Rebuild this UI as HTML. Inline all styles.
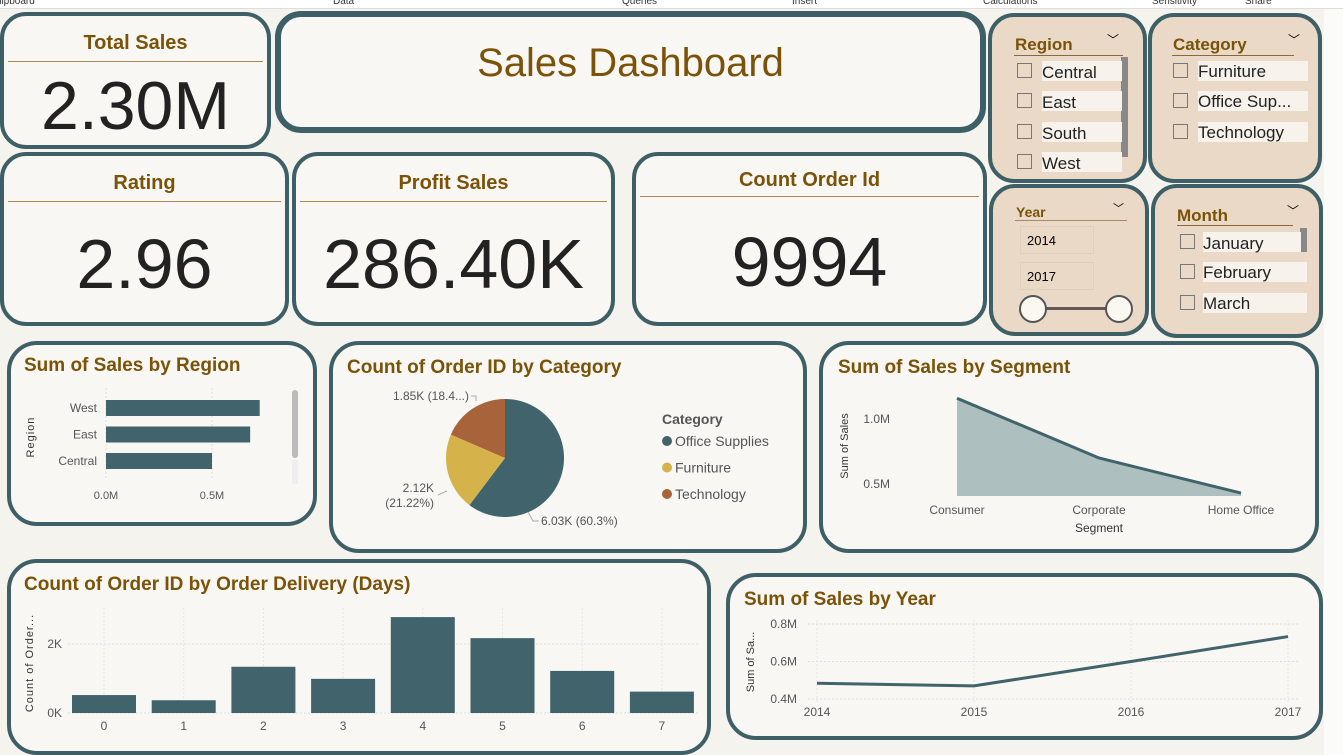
<!DOCTYPE html>
<html><head><meta charset="utf-8">
<style>
body{margin:0;width:1343px;height:755px;background:#f4f3ee;font-family:"Liberation Sans","DejaVu Sans",sans-serif;position:relative;overflow:hidden}
.card{position:absolute;box-sizing:border-box;border:4px solid #3f5f66;border-radius:26px;background:#f8f7f3}
.kt{position:absolute;left:0;right:0;text-align:center;color:#7a5208;font-weight:bold;font-size:20px}
.kl{position:absolute;left:4px;right:4px;height:1px;background:#a98a55}
.kv{position:absolute;left:0;right:0;text-align:center;color:#222;font-size:70px;line-height:80px}
.sl{position:absolute;box-sizing:border-box;border:4px solid #3f5f66;border-radius:26px;background:#e9d9c6}
.st{position:absolute;color:#7a5208;font-weight:bold;font-size:17px}
.item{position:absolute;font-size:17px;color:#222}
.cb{position:absolute;width:15px;height:15px;border:1px solid #777;box-sizing:border-box}
.bg{position:absolute;background:#f7f3ec}
.ribbon{position:absolute;top:0;left:0;width:1343px;height:8px;background:#fff;border-bottom:1px solid #ddd;font-size:10px;color:#333;overflow:hidden}
.ribbon span{position:absolute;top:-4px}
svg text{font-family:"Liberation Sans",sans-serif}
</style></head><body>
<div class="ribbon"><span style="left:-8px">Clipboard</span><span style="left:333px">Data</span><span style="left:622px">Queries</span><span style="left:792px">Insert</span><span style="left:983px">Calculations</span><span style="left:1152px">Sensitivity</span><span style="left:1245px">Share</span></div>
<div style="position:absolute;left:1324px;top:9px;width:19px;height:746px;background:#fbfbfa"></div>

<div class="card" style="left:0;top:12px;width:271px;height:137px">
 <div class="kt" style="top:16px">Total Sales</div><div class="kl" style="top:45px"></div>
 <div class="kv" style="top:50px;font-size:68px">2.30M</div></div>
<div class="card" style="left:275px;top:11px;width:711px;height:122px;border-width:6px">
 <div style="position:absolute;left:0;right:0;top:24px;text-align:center;color:#7a5208;font-size:40px">Sales Dashboard</div></div>
<div class="card" style="left:0;top:152px;width:289px;height:174px">
 <div class="kt" style="top:16px">Rating</div><div class="kl" style="top:45px"></div><div class="kv" style="top:68px">2.96</div></div>
<div class="card" style="left:292px;top:152px;width:323px;height:174px">
 <div class="kt" style="top:16px">Profit Sales</div><div class="kl" style="top:45px"></div><div class="kv" style="top:68px">286.40K</div></div>
<div class="card" style="left:632px;top:152px;width:355px;height:174px">
 <div class="kt" style="top:13px">Count Order Id</div><div class="kl" style="top:40px"></div><div class="kv" style="top:66px">9994</div></div>

<div class="sl" style="left:988px;top:13px;width:159px;height:170px">
 <div class="st" style="left:23px;top:18px">Region</div><div style="position:absolute;left:115px;top:14px;font-size:12px">﹀</div>
 <div class="kl" style="left:22px;right:20px;top:38px;background:#8a6a3a"></div>
 <div style="position:absolute;left:129px;top:40px;width:7px;height:100px;background:#888"></div>
 <div class="bg" style="left:50px;top:44px;width:80px;height:20px"></div><div class="cb" style="left:25px;top:46px"></div><div class="item" style="left:50px;top:46px">Central</div>
 <div class="bg" style="left:50px;top:74px;width:80px;height:20px"></div><div class="cb" style="left:25px;top:76px"></div><div class="item" style="left:50px;top:76px">East</div>
 <div class="bg" style="left:50px;top:105px;width:80px;height:20px"></div><div class="cb" style="left:25px;top:107px"></div><div class="item" style="left:50px;top:107px">South</div>
 <div class="bg" style="left:50px;top:135px;width:80px;height:20px"></div><div class="cb" style="left:25px;top:137px"></div><div class="item" style="left:50px;top:137px">West</div></div>
<div class="sl" style="left:1148px;top:13px;width:174px;height:170px">
 <div class="st" style="left:21px;top:18px">Category</div><div style="position:absolute;left:136px;top:14px;font-size:12px">﹀</div>
 <div class="kl" style="left:20px;right:24px;top:38px;background:#8a6a3a"></div>
 <div class="bg" style="left:46px;top:44px;width:110px;height:20px"></div><div class="cb" style="left:21px;top:46px"></div><div class="item" style="left:46px;top:45px">Furniture</div>
 <div class="bg" style="left:46px;top:74px;width:110px;height:20px"></div><div class="cb" style="left:21px;top:76px"></div><div class="item" style="left:46px;top:75px">Office Sup...</div>
 <div class="bg" style="left:46px;top:105px;width:110px;height:20px"></div><div class="cb" style="left:21px;top:107px"></div><div class="item" style="left:46px;top:106px">Technology</div></div>
<div class="sl" style="left:989px;top:184px;width:160px;height:152px">
 <div class="st" style="left:23px;top:16px;font-size:14px">Year</div><div style="position:absolute;left:120px;top:12px;font-size:11px">﹀</div>
 <div class="kl" style="left:22px;right:18px;top:32px;background:#a58a6a"></div>
 <div style="position:absolute;left:27px;top:38px;width:74px;height:28px;border:1px solid #e0cfbb;font-size:13px;line-height:28px;padding-left:6px;box-sizing:border-box">2014</div>
 <div style="position:absolute;left:27px;top:74px;width:74px;height:28px;border:1px solid #e0cfbb;font-size:13px;line-height:28px;padding-left:6px;box-sizing:border-box">2017</div>
 <div style="position:absolute;left:40px;top:119px;width:82px;height:3px;background:#655"></div>
 <div style="position:absolute;left:26px;top:107px;width:24px;height:24px;border:2px solid #555;border-radius:50%;background:#fbf8f2"></div>
 <div style="position:absolute;left:112px;top:107px;width:24px;height:24px;border:2px solid #555;border-radius:50%;background:#fbf8f2"></div></div>
<div class="sl" style="left:1151px;top:184px;width:172px;height:154px">
 <div class="st" style="left:22px;top:18px">Month</div><div style="position:absolute;left:132px;top:14px;font-size:12px">﹀</div>
 <div class="kl" style="left:22px;right:26px;top:37px;background:#8a6a3a"></div>
 <div style="position:absolute;left:145px;top:40px;width:7px;height:24px;background:#888"></div>
 <div class="bg" style="left:48px;top:44px;width:98px;height:20px"></div><div class="cb" style="left:25px;top:46px"></div><div class="item" style="left:48px;top:46px">January</div>
 <div class="bg" style="left:48px;top:74px;width:104px;height:20px"></div><div class="cb" style="left:25px;top:76px"></div><div class="item" style="left:48px;top:75px">February</div>
 <div class="bg" style="left:48px;top:105px;width:104px;height:20px"></div><div class="cb" style="left:25px;top:107px"></div><div class="item" style="left:48px;top:106px">March</div></div>

<div class="card" style="left:7px;top:341px;width:310px;height:185px;border-radius:30px"></div>
<div class="card" style="left:329px;top:341px;width:478px;height:212px;border-radius:30px"></div>
<div class="card" style="left:819px;top:341px;width:500px;height:212px;border-radius:30px"></div>
<div class="card" style="left:7px;top:559px;width:704px;height:196px;border-radius:30px"></div>
<div class="card" style="left:726px;top:573px;width:597px;height:167px;border-radius:30px"></div>

<svg id="ch" width="1343" height="755" style="position:absolute;left:0;top:0"></svg>

<script>
const regionCats=["West","East","Central"];
const regionVals=[0.725,0.68,0.50];
const regionTicks=["0.0M","0.5M"];
const pieCats=["Office Supplies","Furniture","Technology"];
const pieVals=[6.03,2.12,1.85];
const pieLabels=["6.03K (60.3%)","2.12K (21.22%)","1.85K (18.4...)"];
const segCats=["Consumer","Corporate","Home Office"];
const segVals=[1.16,0.70,0.43];
const segTicks=[0.5,1.0];
const delCats=["0","1","2","3","4","5","6","7"];
const delVals=[0.52,0.37,1.34,0.99,2.78,2.17,1.22,0.62];
const delTicks=[0,2];
const yearCats=["2014","2015","2016","2017"];
const yearVals=[0.484,0.47,0.60,0.733];
const yearTicks=[0.4,0.6,0.8];

const S=document.getElementById('ch'),NS="http://www.w3.org/2000/svg";
function E(t,a,txt){const e=document.createElementNS(NS,t);for(const k in a)e.setAttribute(k,a[k]);if(txt!==undefined)e.textContent=txt;S.appendChild(e);return e;}
const TEAL="#41636b",TT="#7a5208",GR="#555";
function title(x,y,t){const e=E('text',{x:x,y:y,fill:TT,'font-size':19,'font-weight':'bold'},t);}

// Region
title(24,371,"Sum of Sales by Region");
const rx=v=>106+v*212, ry=i=>400+i*26.5;
regionTicks.forEach((t,i)=>{const x=rx(i*0.5);E('line',{x1:x,x2:x,y1:388,y2:478,stroke:'#ddd','stroke-dasharray':'2,2'});E('text',{x:x,y:499,'text-anchor':'middle','font-size':11,fill:GR},t);});
regionCats.forEach((c,i)=>{const b=E('rect',{x:rx(0),y:ry(i),width:rx(regionVals[i])-rx(0),height:16,fill:TEAL});
E('text',{x:97,y:ry(i)+12,'text-anchor':'end','font-size':12,fill:GR},c);});
E('text',{x:34,y:437,'text-anchor':'middle','font-size':11,fill:'#333',transform:'rotate(-90 34 437)','letter-spacing':'1'},"Region");
E('rect',{x:292,y:390,width:6,height:68,rx:3,fill:'#bbb'});E('rect',{x:292,y:460,width:6,height:24,fill:'#eee'});

// Pie
title(347,373,"Count of Order ID by Category");
const pc=[TEAL,"#d6b34a","#a8633a"],cx=505,cy=458,R=59;
const tot=pieVals.reduce((a,b)=>a+b,0);let ang=-Math.PI/2;
pieVals.forEach((v,i)=>{const a2=ang+v/tot*2*Math.PI;const x1=cx+R*Math.cos(ang),y1=cy+R*Math.sin(ang),x2=cx+R*Math.cos(a2),y2=cy+R*Math.sin(a2);
const p=E('path',{d:`M${cx},${cy}L${x1},${y1}A${R},${R} 0 ${a2-ang>Math.PI?1:0} 1 ${x2},${y2}Z`,fill:pc[i]});
ang=a2;
if(i==0){E('polyline',{points:'528,512 533,521 539,521',fill:'none',stroke:'#aaa'});E('text',{x:541,y:525,'font-size':12,fill:GR},pieLabels[0]);}
if(i==1){E('line',{x1:438,y1:495,x2:447,y2:491,stroke:'#aaa'});E('text',{x:434,y:492,'text-anchor':'end','font-size':12,fill:GR},"2.12K");E('text',{x:434,y:507,'text-anchor':'end','font-size':12,fill:GR},"(21.22%)");}
if(i==2){E('polyline',{points:'471,396 476,396 476,401',fill:'none',stroke:'#aaa'});E('text',{x:469,y:400,'text-anchor':'end','font-size':12,fill:GR},pieLabels[2]);}
});
E('text',{x:662,y:424,'font-size':14,'font-weight':'bold',fill:'#555'},"Category");
pieCats.forEach((c,i)=>{E('circle',{cx:667,cy:441+i*26.5,r:5,fill:pc[i]});E('text',{x:675,y:446+i*26.5,'font-size':14,fill:GR},c);});

// Segment
title(838,373,"Sum of Sales by Segment");
const sx=i=>957+i*142, sy=v=>484-(v-0.5)*130;
segTicks.forEach(t=>{E('text',{x:890,y:sy(t)+4,'text-anchor':'end','font-size':12,fill:GR},t.toFixed(1)+'M');});
let ap=`M${sx(0)},496`;segVals.forEach((v,i)=>ap+=`L${sx(i)},${sy(v)}`);ap+=`L${sx(segVals.length-1)},496Z`;
E('path',{d:ap,fill:'#aebfbf'});
const sl=E('polyline',{points:segVals.map((v,i)=>sx(i)+','+sy(v)).join(' '),fill:'none',stroke:TEAL,'stroke-width':3});
segCats.forEach((c,i)=>E('text',{x:sx(i),y:514,'text-anchor':'middle','font-size':12,fill:GR},c));
E('text',{x:1099,y:532,'text-anchor':'middle','font-size':12,fill:'#333'},"Segment");
E('text',{x:848,y:446,'text-anchor':'middle','font-size':11,fill:'#333',transform:'rotate(-90 848 446)'},"Sum of Sales");

// Delivery
title(24,590,"Count of Order ID by Order Delivery (Days)");
const dx=i=>104+i*79.7, dy=v=>713-v*34.5;
delTicks.forEach(t=>{E('line',{x1:68,x2:700,y1:dy(t),y2:dy(t),stroke:'#ddd','stroke-dasharray':'2,2'});E('text',{x:62,y:dy(t)+4,'text-anchor':'end','font-size':12,fill:GR},t+'K');});
delCats.forEach((c,i)=>{E('line',{x1:dx(i),x2:dx(i),y1:608,y2:713,stroke:'#e4e4e4','stroke-dasharray':'2,2'});
const b=E('rect',{x:dx(i)-32,y:dy(delVals[i]),width:64,height:dy(0)-dy(delVals[i]),fill:TEAL});
E('text',{x:dx(i),y:730,'text-anchor':'middle','font-size':12,fill:GR},c);});
E('text',{x:33,y:663,'text-anchor':'middle','font-size':11,fill:'#333',transform:'rotate(-90 33 663)','letter-spacing':'1'},"Count of Order...");

// Year
title(744,605,"Sum of Sales by Year");
const yx=i=>817+i*157, yy=v=>699-(v-0.4)*187.5;
yearTicks.forEach(t=>{E('line',{x1:808,x2:1300,y1:yy(t),y2:yy(t),stroke:'#ddd','stroke-dasharray':'2,2'});E('text',{x:797,y:yy(t)+4,'text-anchor':'end','font-size':12,fill:GR},t.toFixed(1)+'M');});
yearCats.forEach((c,i)=>{E('line',{x1:yx(i),x2:yx(i),y1:620,y2:702,stroke:'#e4e4e4','stroke-dasharray':'2,2'});E('text',{x:yx(i),y:716,'text-anchor':'middle','font-size':12,fill:GR},c);});
const yl=E('polyline',{points:yearVals.map((v,i)=>yx(i)+','+yy(v)).join(' '),fill:'none',stroke:TEAL,'stroke-width':3});
E('text',{x:754,y:662,'text-anchor':'middle','font-size':11,fill:'#333',transform:'rotate(-90 754 662)'},"Sum of Sa...");
</script>
</body></html>
